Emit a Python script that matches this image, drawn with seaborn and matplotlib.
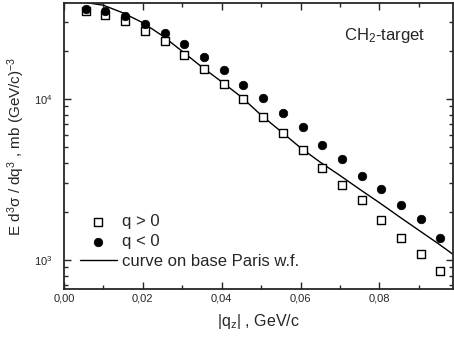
import numpy as np
import pandas as pd
import matplotlib
matplotlib.use('Agg')
import matplotlib.pyplot as plt
import seaborn as sns

# |q_z| points (GeV/c)
q_pts = [0.0055, 0.0105, 0.0155, 0.0205, 0.0255, 0.0305, 0.0355, 0.0405, 0.0455, 0.0505,
         0.0555, 0.0605, 0.0655, 0.0705, 0.0755, 0.0805, 0.0855, 0.0905, 0.0955]
# q > 0 (open squares)
sig_pos = [35200, 33400, 30500, 26400, 22800, 18900, 15300, 12400, 9960, 7760,
           6180, 4800, 3720, 2910, 2360, 1770, 1360, 1090, 859]
# q < 0 (filled circles)
sig_neg = [36200, 35100, 32900, 29200, 25700, 22000, 18200, 15100, 12200, 10100,
           8180, 6700, 5180, 4240, 3320, 2760, 2200, 1800, 1370]
# curve on base Paris w.f.
q_curve = [0.0, 0.005, 0.01, 0.015, 0.02, 0.025, 0.03, 0.035, 0.04, 0.045, 0.05,
           0.055, 0.06, 0.065, 0.07, 0.075, 0.08, 0.085, 0.09, 0.095, 0.099]
sig_curve = [41000, 40000, 38300, 34300, 29800, 24700, 19800, 15800, 12800, 10300, 7950,
             6300, 4980, 4050, 3350, 2750, 2270, 1860, 1530, 1260, 1070]

sns.set_style('ticks')
plt.rcParams['font.family'] = ['Liberation Sans', 'DejaVu Sans']
plt.rcParams['mathtext.default'] = 'regular'

df_pos = pd.DataFrame({'q': q_pts, 'sig': sig_pos})
df_neg = pd.DataFrame({'q': q_pts, 'sig': sig_neg})
df_cur = pd.DataFrame({'q': q_curve, 'sig': sig_curve})

fig = plt.figure(figsize=(4.54, 3.42), dpi=100)
ax = fig.add_axes([0.141, 0.155, 0.857, 0.836])

sns.lineplot(data=df_cur, x='q', y='sig', color='black', lw=1.0, ax=ax,
             label='curve on base Paris w.f.', zorder=2)
sns.scatterplot(data=df_pos, x='q', y='sig', marker='s', s=30, facecolor='white',
                edgecolor='black', linewidth=1.0, ax=ax, label='q > 0', zorder=3)
sns.scatterplot(data=df_neg, x='q', y='sig', marker='o', s=38, color='black',
                edgecolor='black', ax=ax, label='q < 0', zorder=3)

ax.set_yscale('log')
ax.set_xlim(0, 0.0987)
ax.set_ylim(660, 39500)
ax.set_xticks([0, 0.02, 0.04, 0.06, 0.08])
ax.set_xticks(np.arange(0.01, 0.1, 0.02), minor=True)
ax.set_xticklabels(['0,00', '0,02', '0,04', '0,06', '0,08'])
ax.tick_params(which='both', direction='in', top=True, right=True, labelsize=8, width=1.0)
ax.tick_params(which='major', length=5)
ax.tick_params(which='minor', length=3)
ax.tick_params(axis='y', which='both', pad=8)
for s in ax.spines.values():
    s.set_linewidth(1.3)

ax.set_xlabel('|q$_z$| , GeV/c', fontsize=11.5, labelpad=6)
ax.set_ylabel('E d$^3$σ / dq$^3$ , mb (GeV/c)$^{-3}$', fontsize=11, labelpad=5)
ax.text(0.72, 0.87, 'CH$_2$-target', transform=ax.transAxes, fontsize=12)

h, l = ax.get_legend_handles_labels()
order = [1, 2, 0]
ax.legend([h[i] for i in order], [l[i] for i in order], loc='lower left',
          bbox_to_anchor=(0.015, 0.035), frameon=False, fontsize=12,
          handlelength=2.2, handletextpad=0.35, labelspacing=0.3, borderaxespad=0.2)

fig.savefig('out.png', dpi=100)
